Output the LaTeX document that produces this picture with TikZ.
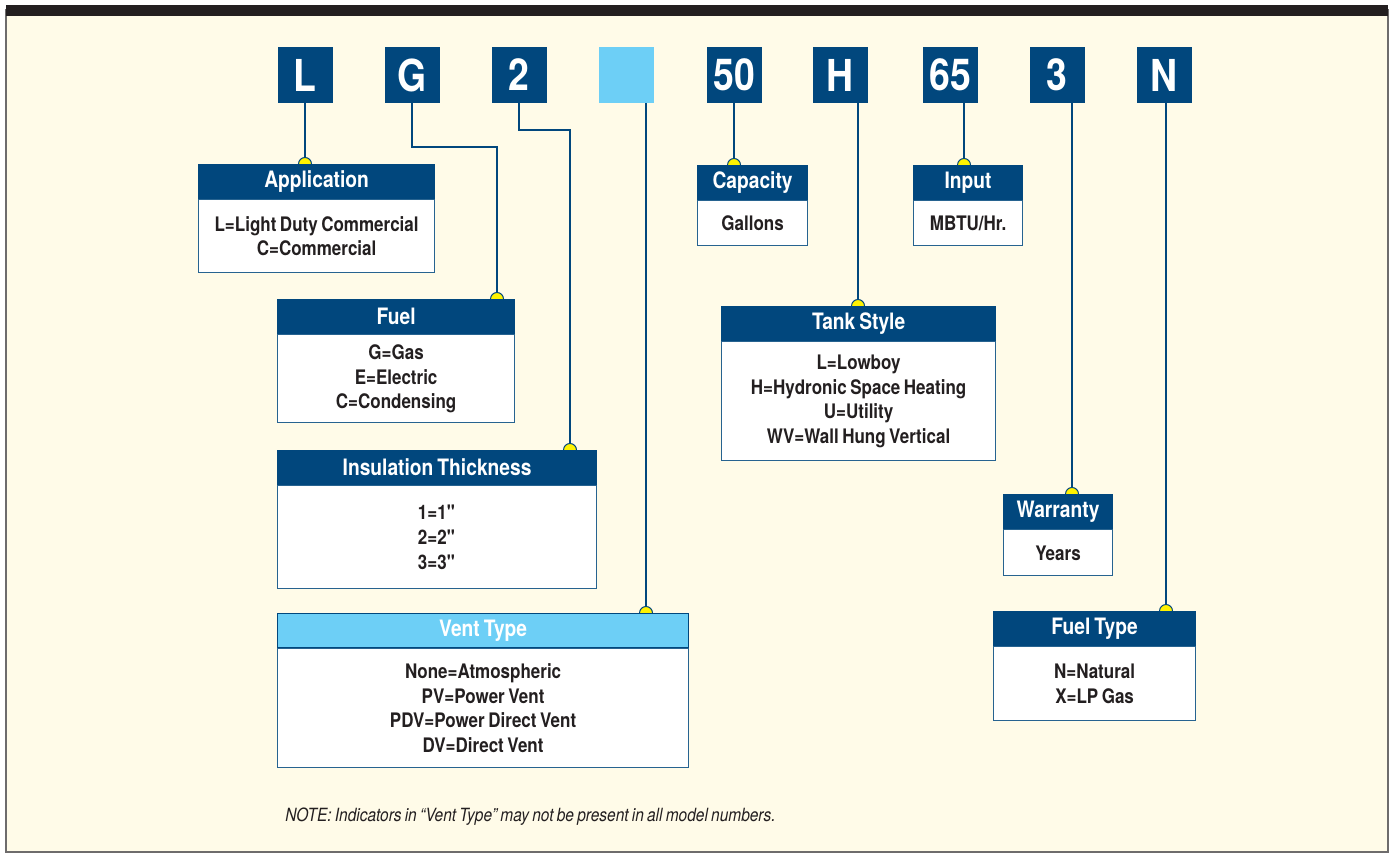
\documentclass[tikz,border=0pt]{standalone}
\usepackage{fontspec}
\setmainfont{TeX Gyre Heros}[FakeStretch=0.85,WordSpace=0.75]
\usetikzlibrary{positioning}
\definecolor{dkblue}{RGB}{1,71,125}
\definecolor{ltblue}{RGB}{109,207,246}
\definecolor{cream}{RGB}{255,251,232}
\definecolor{ink}{RGB}{35,31,32}
\definecolor{pinyellow}{RGB}{255,242,0}
\definecolor{framegray}{RGB}{110,108,108}

\begin{document}
\begin{tikzpicture}[x=0.5pt,y=-0.5pt,
    code/.style={fill=dkblue,text=white,minimum width=27.5pt,minimum height=28pt,inner sep=0pt,font=\bfseries\fontsize{22}{22}\selectfont},
    hdr/.style={fill=dkblue,draw=dkblue,line width=0.6pt,text=white,anchor=north west,inner xsep=0pt,inner ysep=0pt,minimum height=17pt,align=flush center,font=\bfseries\fontsize{11.3}{13}\selectfont},
    body/.style={fill=white,draw=dkblue!85,line width=0.6pt,text=ink,below=0pt of #1,inner xsep=0pt,align=flush center,font=\bfseries\fontsize{10}{12.3}\selectfont},
    wire/.style={draw=dkblue,line width=0.65pt},
    pin/.style={circle,fill=pinyellow,draw=dkblue,line width=0.5pt,inner sep=0pt,minimum size=6.5pt},
  ]
  \useasboundingbox (0,0) rectangle (1390,855);
  % frame
  \fill[white] (0,0) rectangle (1390,855);
  \filldraw[fill=cream,draw=framegray,line width=0.8pt] (6,10) rectangle (1388,852);
  \fill[ink] (6,5) rectangle (1388,16);

  % model number letters
  \node[code] (cL) at (305,75) {L};
  \node[code] (cG) at (412,75) {G};
  \node[code] (c2) at (519,75) {2};
  \node[code,fill=ltblue] (cV) at (626,75) {};
  \node[code] (c50) at (734,75) {50};
  \node[code] (cH) at (840,75) {H};
  \node[code] (c65) at (950,75) {65};
  \node[code] (c3) at (1057,75) {3};
  \node[code] (cN) at (1164,75) {N};

  % where the wires meet the boxes
  \coordinate (pApp) at (305,164);
  \coordinate (gBend) at (497,147);
  \coordinate (pFuel) at (497,299);
  \coordinate (iBend) at (570,130);
  \coordinate (pIns) at (570,450);
  \coordinate (pVent) at (646,613);
  \coordinate (pCap) at (734,165);
  \coordinate (pTank) at (858,306);
  \coordinate (pInp) at (964,165);
  \coordinate (pWar) at (1072,494);
  \coordinate (pFt) at (1166,611);

  \draw[wire] (cL.south) -- (pApp);
  \draw[wire] (cG.south) |- (gBend) -- (pFuel);
  \draw[wire] (c2.south) |- (iBend) -- (pIns);
  \draw[wire] (pVent |- cV.south) -- (pVent);
  \draw[wire] (c50.south) -- (pCap);
  \draw[wire] (pTank |- cH.south) -- (pTank);
  \draw[wire] (pInp |- c65.south) -- (pInp);
  \draw[wire] (pWar |- c3.south) -- (pWar);
  \draw[wire] (pFt |- cN.south) -- (pFt);

  \foreach \p in {pApp,pFuel,pIns,pVent,pCap,pTank,pInp,pWar,pFt}
    \node[pin] at (\p) {};

  % boxes
  \node[hdr,text width=118pt] (appH) at (198,164) {Application};
  \node[body=appH,text width=118pt,minimum height=36.5pt] (appB) {L=Light Duty Commercial\\C=Commercial};

  \node[hdr,text width=118.5pt] (fuelH) at (277,299) {Fuel};
  \node[body=fuelH,text width=118.5pt,minimum height=44pt] (fuelB) {G=Gas\\E=Electric\\C=Condensing};

  \node[hdr,text width=159.5pt] (insH) at (277,450) {Insulation Thickness};
  \node[body=insH,text width=159.5pt,minimum height=51.5pt] (insB) {1=1\textquotedbl\\2=2\textquotedbl\\3=3\textquotedbl};

  \node[hdr,fill=ltblue,text width=205.5pt] (ventH) at (277,613) {Vent Type};
  \node[body=ventH,text width=205.5pt,minimum height=59.5pt] (ventB) {None=Atmospheric\\PV=Power Vent\\PDV=Power Direct Vent\\DV=Direct Vent};

  \node[hdr,text width=55pt] (capH) at (697,165) {Capacity};
  \node[body=capH,text width=55pt,minimum height=22.5pt] (capB) {Gallons};

  \node[hdr,text width=54.5pt] (inpH) at (913,165) {Input};
  \node[body=inpH,text width=54.5pt,minimum height=22.5pt] (inpB) {MBTU/Hr.};

  \node[hdr,text width=137pt] (tankH) at (721,306) {Tank Style};
  \node[body=tankH,text width=137pt,minimum height=59.5pt] (tankB) {L=Lowboy\\H=Hydronic Space Heating\\U=Utility\\WV=Wall Hung Vertical};

  \node[hdr,text width=54.5pt] (warH) at (1003,494) {Warranty};
  \node[body=warH,text width=54.5pt,minimum height=23pt] (warB) {Years};

  \node[hdr,text width=101pt] (ftH) at (993,611) {Fuel Type};
  \node[body=ftH,text width=101pt,minimum height=37pt] (ftB) {N=Natural\\X=LP Gas};

  \node[anchor=west,inner sep=0pt,text=ink,font=\itshape\fontsize{9.1}{10}\selectfont] (note) at (285,817) {NOTE: Indicators in ``Vent Type'' may not be present in all model numbers.};
\end{tikzpicture}
\end{document}
